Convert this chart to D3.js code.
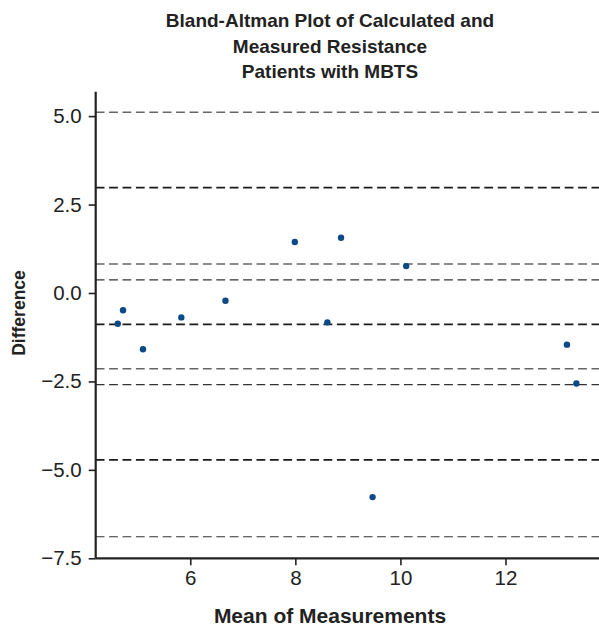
<!DOCTYPE html>
<html><head><meta charset="utf-8">
<script src="https://cdn.jsdelivr.net/npm/d3@7"></script>
<style>body{margin:0;background:#fff;} svg{display:block;font-family:"Liberation Sans",Arial,sans-serif;}</style>
</head><body>
<svg id="c" width="599" height="628"></svg>
<script>
const titleLines = ["Bland-Altman Plot of Calculated and","Measured Resistance","Patients with MBTS"];
const xLabel = "Mean of Measurements";
const yLabel = "Difference";
const meanValues = [4.62,4.72,5.10,5.83,6.67,7.99,8.61,8.87,9.47,10.11,13.17,13.35];
const diffValues = [-0.87,-0.49,-1.59,-0.69,-0.22,1.44,-0.83,1.56,-5.77,0.76,-1.46,-2.56];
const xTicks = [6,8,10,12];
const yTicks = [5.0,2.5,0.0,-2.5,-5.0,-7.5];
const refLevels = [5.11,2.98,0.82,0.37,-0.885,-2.14,-2.59,-4.72,-6.89];
const refKinds  = ["ci","loa","ci","ci2","loa","ci","ci2","loa","ci2"];

const svg = d3.select("#c");
const x = d3.scaleLinear().domain([4.2,13.78]).range([95.7,599]);
const y = d3.scaleLinear().domain([-7.5,5.69]).range([558.3,91.7]);

const styles = {ci:{c:"#666",w:1.4},ci2:{c:"#333",w:1.1},loa:{c:"#1a1a1a",w:1.7}};
svg.append("g").selectAll("line").data(refLevels).join("line")
  .attr("x1",x(4.2)).attr("x2",599)
  .attr("y1",d=>y(d)).attr("y2",d=>y(d))
  .attr("stroke",(d,i)=>styles[refKinds[i]].c)
  .attr("stroke-width",(d,i)=>styles[refKinds[i]].w)
  .attr("stroke-dasharray","8.8,4.6");

const fmt = d=> d3.format(".1f")(d).replace("-","\u2212");
const yAxis = svg.append("g").attr("transform","translate(95.7,0)")
  .call(d3.axisLeft(y).tickValues(yTicks).tickFormat(fmt).tickSize(7).tickPadding(7));
const xAxis = svg.append("g").attr("transform","translate(0,558.3)")
  .call(d3.axisBottom(x).tickValues(xTicks).tickFormat(d3.format("d")).tickSize(7).tickPadding(5));
[yAxis,xAxis].forEach(g=>{
  g.select(".domain").attr("stroke","#222").attr("stroke-width",2.2);
  g.selectAll(".tick line").attr("stroke","#222").attr("stroke-width",1.6);
  g.selectAll(".tick text").attr("fill","#222").style("font-size","20.5px").style("font-family","'Liberation Sans',Arial,sans-serif");
});
yAxis.select(".domain").attr("d",`M-0,${y(5.69)}V${y(-7.5)}`);
xAxis.select(".domain").attr("d",`M${x(4.2)},0H599`);

svg.append("g").selectAll("circle").data(meanValues).join("circle")
  .attr("cx",d=>x(d)).attr("cy",(d,i)=>y(diffValues[i])).attr("r",3.2)
  .attr("fill","#0b4a86");

svg.append("g").selectAll("text").data(titleLines).join("text")
  .attr("x",330).attr("y",(d,i)=>27+i*25.5).attr("text-anchor","middle")
  .style("font-size","19px").style("font-weight","bold").attr("fill","#222").text(d=>d);

svg.append("text").attr("x",330).attr("y",623).attr("text-anchor","middle")
  .style("font-size","21px").style("font-weight","bold").attr("fill","#222").text(xLabel);
svg.append("text").attr("transform","translate(25,313) rotate(-90)").attr("text-anchor","middle")
  .style("font-size","17.5px").style("font-weight","bold").attr("fill","#222").text(yLabel);
</script>
</body></html>
